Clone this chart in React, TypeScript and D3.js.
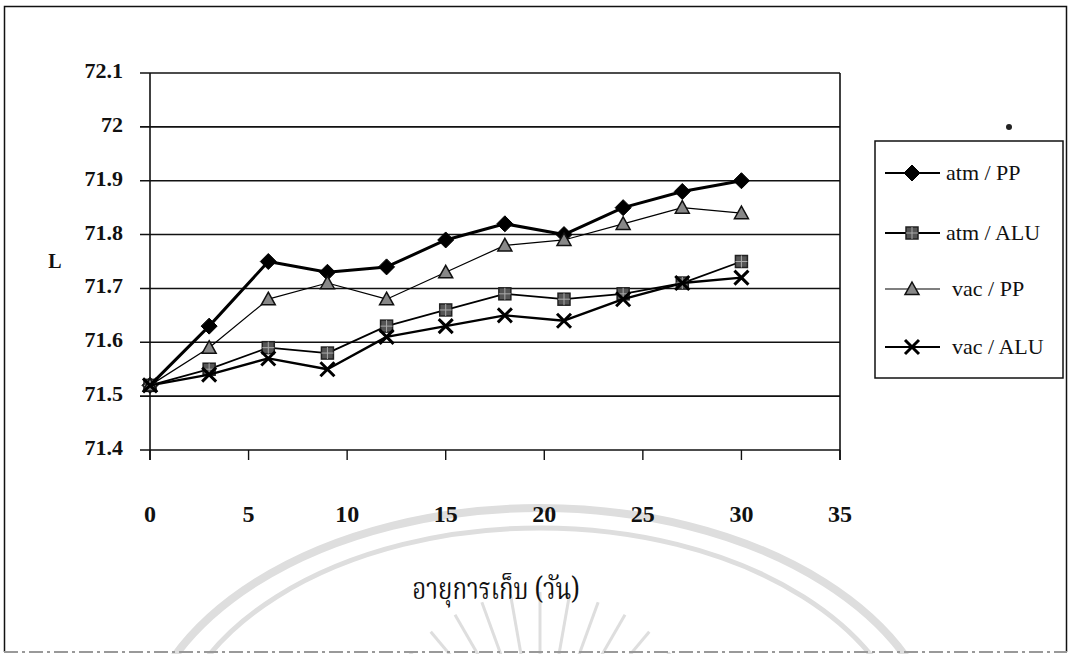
import React from "react";
import * as d3 from "d3";

const days = [0, 3, 6, 9, 12, 15, 18, 21, 24, 27, 30];
const atmPP = [71.52, 71.63, 71.75, 71.73, 71.74, 71.79, 71.82, 71.8, 71.85, 71.88, 71.9];
const atmALU = [71.52, 71.55, 71.59, 71.58, 71.63, 71.66, 71.69, 71.68, 71.69, 71.71, 71.75];
const vacPP = [71.52, 71.59, 71.68, 71.71, 71.68, 71.73, 71.78, 71.79, 71.82, 71.85, 71.84];
const vacALU = [71.52, 71.54, 71.57, 71.55, 71.61, 71.63, 71.65, 71.64, 71.68, 71.71, 71.72];
const seriesNames = ["atm / PP", "atm / ALU", "vac / PP", "vac / ALU"];
const xTicks = [0, 5, 10, 15, 20, 25, 30, 35];
const yTicks = [71.4, 71.5, 71.6, 71.7, 71.8, 71.9, 72, 72.1];

const serif = "Liberation Serif";

function Marker({ kind, x, y }: { kind: string; x: number; y: number }) {
  if (kind === "diamond") {
    const s = 8;
    return <path d={`M${x},${y - s}L${x + s},${y}L${x},${y + s}L${x - s},${y}Z`} fill="#000" stroke="#000" strokeWidth={1} />;
  }
  if (kind === "square") {
    const s = 6;
    return (
      <g>
        <rect x={x - s} y={y - s} width={2 * s} height={2 * s} fill="#555" stroke="#222" strokeWidth={1.5} />
        <path d={`M${x - s},${y}H${x + s}M${x},${y - s}V${y + s}`} stroke="#aaa" strokeWidth={1} />
      </g>
    );
  }
  if (kind === "triangle") {
    const s = 7;
    return <path d={`M${x},${y - s}L${x + s},${y + s * 0.8}L${x - s},${y + s * 0.8}Z`} fill="#888" stroke="#111" strokeWidth={1.5} />;
  }
  const s = 7;
  return <path d={`M${x - s},${y - s}L${x + s},${y + s}M${x + s},${y - s}L${x - s},${y + s}`} stroke="#000" strokeWidth={3} />;
}

export default function App() {
  const W = 1071, H = 654;
  const x = d3.scaleLinear().domain([0, 35]).range([150, 840]);
  const y = d3.scaleLinear().domain([71.4, 72.1]).range([450, 73]);
  const series = [
    { name: seriesNames[0], vals: atmPP, kind: "diamond", sw: 3 },
    { name: seriesNames[1], vals: atmALU, kind: "square", sw: 1.8 },
    { name: seriesNames[2], vals: vacPP, kind: "triangle", sw: 1.2 },
    { name: seriesNames[3], vals: vacALU, kind: "x", sw: 2.4 },
  ];
  const line = (vals: number[]) =>
    d3.line<number>().x((_, i) => x(days[i])).y((v) => y(v))(vals) || "";
  const legendY = [173, 233, 289, 347];
  const txt = { fontFamily: serif, fill: "#111" } as React.CSSProperties;

  return (
    <svg width={W} height={H} style={{ position: "absolute", left: 0, top: 0, background: "#fff" }}>
      <rect width={W} height={H} fill="#fff" />
      {/* watermark */}
      <g fill="none" stroke="#dedede">
        <ellipse cx={540} cy={762} rx={402} ry={254} strokeWidth={8} />
        <ellipse cx={540} cy={762} rx={372} ry={234} strokeWidth={5} />
        {d3.range(-6, 7).map((k) => {
          const a = (k * 10 * Math.PI) / 180;
          const r1 = 70, r2 = 170;
          const cx = 540, cy = 762;
          return (
            <line key={k} x1={cx + r1 * Math.sin(a)} y1={cy - r1 * Math.cos(a)} x2={cx + r2 * Math.sin(a)} y2={cy - r2 * Math.cos(a)} strokeWidth={3} />
          );
        })}
      </g>
      {/* outer frame */}
      <path d="M4.5,652V6.5H1066.5V652" fill="none" stroke="#111" strokeWidth={1.5} />
      <line x1={4} x2={1067} y1={652} y2={652} stroke="#999" strokeWidth={2} strokeDasharray="14 4 3 4" />
      {/* grid lines */}
      {yTicks.map((t) => (
        <line key={t} x1={140} x2={840} y1={y(t)} y2={y(t)} stroke="#111" strokeWidth={1.6} />
      ))}
      <line x1={150} x2={150} y1={73} y2={460} stroke="#111" strokeWidth={1.6} />
      <line x1={840} x2={840} y1={73} y2={460} stroke="#111" strokeWidth={1.6} />
      {xTicks.map((t) => (
        <line key={t} x1={x(t)} x2={x(t)} y1={450} y2={460} stroke="#111" strokeWidth={1.4} />
      ))}
      {/* y labels */}
      {yTicks.map((t) => (
        <text key={t} x={123} y={y(t) + 5} textAnchor="end" style={{ ...txt, fontWeight: "bold", fontSize: 22 }}>
          {String(t)}
        </text>
      ))}
      {xTicks.map((t) => (
        <text key={t} x={x(t)} y={522} textAnchor="middle" style={{ ...txt, fontWeight: "bold", fontSize: 24 }}>
          {t}
        </text>
      ))}
      <text x={55} y={268} textAnchor="middle" style={{ ...txt, fontWeight: "bold", fontSize: 20 }}>L</text>
      <g transform="translate(496,599) scale(1,1.25)">
        <text x={0} y={0} textAnchor="middle" style={{ ...txt, fontFamily: "Noto Serif Thai", fontSize: 24 }}>
          อายุการเก็บ (วัน)
        </text>
      </g>
      {/* series */}
      {series.map((s) => (
        <g key={s.name}>
          <path d={line(s.vals)} fill="none" stroke="#000" strokeWidth={s.sw} strokeLinejoin="round" />
          {s.vals.map((v, i) => (
            <Marker key={i} kind={s.kind} x={x(days[i])} y={y(v)} />
          ))}
        </g>
      ))}
      {/* legend */}
      <rect x={875} y={141} width={188} height={237} fill="#fff" stroke="#111" strokeWidth={1.5} />
      {series.map((s, i) => (
        <g key={s.name}>
          <line x1={885} x2={940} y1={legendY[i]} y2={legendY[i]} stroke="#000" strokeWidth={Math.min(s.sw, 2)} />
          <Marker kind={s.kind} x={912} y={legendY[i]} />
          <text x={i < 2 ? 946 : 952} y={legendY[i] + 7} style={{ ...txt, fontSize: 22 }}>
            {s.name}
          </text>
        </g>
      ))}
      <circle cx={1009} cy={127} r={3} fill="#222" />
    </svg>
  );
}
